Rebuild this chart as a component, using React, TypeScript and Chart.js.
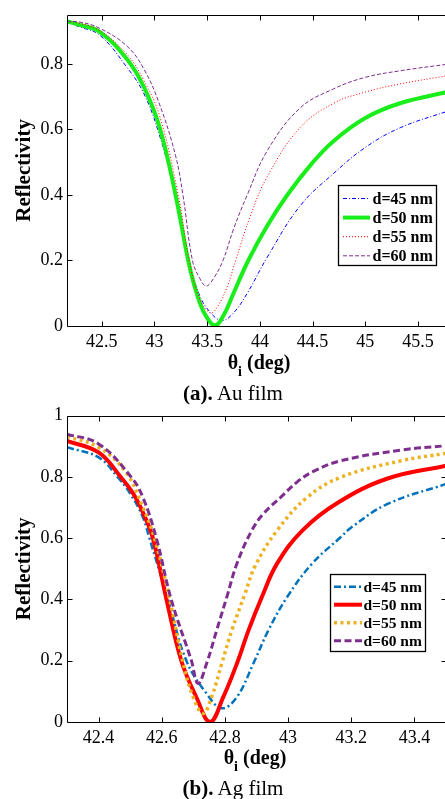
import React, { useEffect, useRef } from "react";
import { Chart, registerables } from "chart.js";

Chart.register(...registerables);

// ---------- shared ----------
const seriesLabels = ["d=45 nm", "d=50 nm", "d=55 nm", "d=60 nm"];

// ---------- (a) Au film ----------
const auXTicks = [42.5, 43, 43.5, 44, 44.5, 45, 45.5];
const auXTickLabels = ["42.5", "43", "43.5", "44", "44.5", "45", "45.5"];
const auYTicks = [0, 0.2, 0.4, 0.6, 0.8];
const auYTickLabels = ["0", "0.2", "0.4", "0.6", "0.8"];

const auTheta45 = [42.17, 42.29, 42.48, 42.74, 42.9, 43.05, 43.19, 43.33, 43.42, 43.52, 43.64, 43.75, 43.88, 44.07, 44.38, 44.7, 45.0, 45.33, 45.8];
const auR45 = [0.927, 0.913, 0.888, 0.789, 0.709, 0.58, 0.41, 0.2, 0.1, 0.045, 0.017, 0.04, 0.1, 0.21, 0.366, 0.466, 0.545, 0.605, 0.658];

const auTheta50 = [42.17, 42.29, 42.48, 42.74, 42.9, 43.05, 43.2, 43.32, 43.4, 43.48, 43.575, 43.66, 43.75, 43.89, 44.07, 44.26, 44.49, 44.7, 45.0, 45.33, 45.8];
const auR50 = [0.93, 0.919, 0.898, 0.814, 0.729, 0.605, 0.4, 0.2, 0.1, 0.035, 0.002, 0.035, 0.1, 0.2, 0.306, 0.4, 0.495, 0.565, 0.635, 0.68, 0.716];

const auTheta55 = [42.17, 42.29, 42.48, 42.74, 42.9, 43.05, 43.225, 43.33, 43.42, 43.53, 43.6, 43.69, 43.77, 43.91, 44.07, 44.38, 44.7, 45.0, 45.33, 45.8];
const auR55 = [0.93, 0.924, 0.902, 0.829, 0.749, 0.64, 0.4, 0.2, 0.09, 0.04, 0.06, 0.12, 0.2, 0.336, 0.456, 0.605, 0.68, 0.714, 0.739, 0.765];

const auTheta60 = [42.17, 42.29, 42.48, 42.74, 42.9, 43.05, 43.2, 43.27, 43.36, 43.43, 43.49, 43.56, 43.65, 43.75, 43.88, 44.07, 44.38, 44.7, 45.0, 45.33, 45.8];
const auR60 = [0.93, 0.928, 0.909, 0.854, 0.784, 0.675, 0.52, 0.4, 0.2, 0.145, 0.122, 0.145, 0.2, 0.296, 0.4, 0.535, 0.665, 0.724, 0.759, 0.779, 0.8];

// ---------- (b) Ag film ----------
const agXTicks = [42.4, 42.6, 42.8, 43, 43.2, 43.4];
const agXTickLabels = ["42.4", "42.6", "42.8", "43", "43.2", "43.4"];
const agYTicks = [0, 0.2, 0.4, 0.6, 0.8, 1];
const agYTickLabels = ["0", "0.2", "0.4", "0.6", "0.8", "1"];

const agTheta45 = [42.3, 42.4, 42.46, 42.5, 42.54, 42.561, 42.62, 42.678, 42.742, 42.79, 42.838, 42.89, 42.938, 42.997, 43.076, 43.167, 43.2, 43.315, 43.5];
const agR45 = [0.897, 0.864, 0.8, 0.746, 0.669, 0.6, 0.4, 0.2, 0.093, 0.045, 0.082, 0.191, 0.3, 0.408, 0.517, 0.604, 0.635, 0.712, 0.777];

const agTheta50 = [42.3, 42.4, 42.47, 42.51, 42.54, 42.572, 42.615, 42.662, 42.71, 42.753, 42.795, 42.838, 42.875, 42.917, 42.965, 43.045, 43.156, 43.315, 43.5];
const agR50 = [0.918, 0.88, 0.8, 0.745, 0.685, 0.6, 0.4, 0.2, 0.08, 0.0, 0.082, 0.191, 0.3, 0.408, 0.517, 0.625, 0.715, 0.795, 0.837];

const agTheta55 = [42.3, 42.4, 42.487, 42.54, 42.577, 42.625, 42.666, 42.7, 42.731, 42.758, 42.79, 42.822, 42.864, 42.896, 42.965, 43.06, 43.167, 43.358, 43.5];
const agR55 = [0.932, 0.897, 0.815, 0.701, 0.6, 0.4, 0.2, 0.08, 0.028, 0.082, 0.191, 0.3, 0.42, 0.51, 0.625, 0.733, 0.799, 0.853, 0.877];

const agTheta60 = [42.3, 42.4, 42.503, 42.54, 42.583, 42.63, 42.694, 42.715, 42.742, 42.774, 42.806, 42.838, 42.885, 42.922, 42.976, 43.03, 43.08, 43.167, 43.358, 43.5];
const agR60 = [0.94, 0.908, 0.8, 0.734, 0.6, 0.4, 0.2, 0.126, 0.191, 0.3, 0.408, 0.517, 0.625, 0.68, 0.733, 0.785, 0.818, 0.853, 0.888, 0.902];

const zip = (xs: number[], ys: number[]) => xs.map((x, i) => ({ x, y: ys[i] }));

const SERIF = '"Liberation Serif", "Times New Roman", serif';

// ---------- plugins ----------
const framePlugin = {
  id: "frame",
  afterDatasetsDraw(chart: any, _a: any, o: any) {
    const { ctx, chartArea: a, scales } = chart;
    const tl = o.tickLen ?? 5;
    const L = Math.round(a.left) + 0.5;
    const R = Math.round(a.right) + 0.5;
    const T = Math.round(a.top) + 0.5;
    const B = Math.round(a.bottom) + 0.5;
    ctx.save();
    ctx.strokeStyle = "#000";
    ctx.lineWidth = 1;
    ctx.setLineDash([]);
    ctx.beginPath();
    ctx.rect(L, T, R - L, B - T);
    scales.x.ticks.forEach((t: any) => {
      const px = Math.round(scales.x.getPixelForValue(t.value)) + 0.5;
      ctx.moveTo(px, B);
      ctx.lineTo(px, B - tl);
      ctx.moveTo(px, T);
      ctx.lineTo(px, T + tl);
    });
    scales.y.ticks.forEach((t: any) => {
      const py = Math.round(scales.y.getPixelForValue(t.value)) + 0.5;
      ctx.moveTo(L, py);
      ctx.lineTo(L + tl, py);
      ctx.moveTo(R, py);
      ctx.lineTo(R - tl, py);
    });
    ctx.stroke();
    ctx.restore();
  },
};

const boxLegendPlugin = {
  id: "boxLegend",
  afterDraw(chart: any, _a: any, o: any) {
    const ctx = chart.ctx;
    ctx.save();
    ctx.fillStyle = "#fff";
    ctx.fillRect(o.x, o.y, o.w, o.h);
    ctx.strokeStyle = "#000";
    ctx.lineWidth = 1.3;
    ctx.setLineDash([]);
    ctx.strokeRect(o.x, o.y, o.w, o.h);
    chart.data.datasets.forEach((ds: any, i: number) => {
      const y = o.rowY0 + i * o.rowGap;
      ctx.save();
      ctx.strokeStyle = ds.borderColor;
      ctx.lineWidth = ds.borderWidth;
      ctx.lineCap = "butt";
      ctx.setLineDash(ds.borderDash || []);
      ctx.beginPath();
      ctx.moveTo(o.lineX0, y);
      ctx.lineTo(o.lineX1, y);
      ctx.stroke();
      ctx.restore();
      ctx.fillStyle = "#000";
      ctx.font = `bold ${o.fontSize}px ${SERIF}`;
      ctx.textBaseline = "middle";
      ctx.textAlign = "left";
      ctx.fillText(ds.label, o.textX, y + 1);
    });
    ctx.restore();
  },
};

type Cfg = {
  width: number;
  height: number;
  padTop: number;
  padRight: number;
  xAxisH: number;
  yAxisW: number;
  xMin: number;
  xMax: number;
  yMin: number;
  yMax: number;
  xTicks: number[];
  xTickLabels: string[];
  yTicks: number[];
  yTickLabels: string[];
  datasets: any[];
  legend: any;
};

function makeConfig(c: Cfg): any {
  const tickFont = { family: SERIF, size: 18 };
  return {
    type: "scatter",
    data: { datasets: c.datasets },
    plugins: [framePlugin, boxLegendPlugin],
    options: {
      responsive: false,
      animation: false,
      events: [],
      layout: { padding: { left: 0, top: c.padTop, right: c.padRight, bottom: 0 } },
      plugins: {
        legend: { display: false },
        tooltip: { enabled: false },
        frame: { tickLen: 5 },
        boxLegend: c.legend,
      },
      scales: {
        x: {
          type: "linear",
          min: c.xMin,
          max: c.xMax,
          grid: { display: false, drawTicks: false },
          border: { display: false },
          afterBuildTicks: (s: any) => {
            s.ticks = c.xTicks.map((v) => ({ value: v }));
          },
          afterFit: (s: any) => {
            s.height = c.xAxisH;
          },
          ticks: {
            color: "#000",
            font: tickFont,
            padding: 5,
            autoSkip: false,
            maxRotation: 0,
            callback: (_v: any, i: number) => c.xTickLabels[i],
          },
        },
        y: {
          type: "linear",
          min: c.yMin,
          max: c.yMax,
          grid: { display: false, drawTicks: false },
          border: { display: false },
          afterBuildTicks: (s: any) => {
            s.ticks = c.yTicks.map((v) => ({ value: v }));
          },
          afterFit: (s: any) => {
            s.width = c.yAxisW;
          },
          ticks: {
            color: "#000",
            font: tickFont,
            padding: 4,
            autoSkip: false,
            callback: (_v: any, i: number) => c.yTickLabels[i],
          },
          title: {
            display: true,
            text: "Reflectivity",
            color: "#000",
            font: { family: SERIF, size: 21, weight: "bold" },
            padding: { top: 12, bottom: 0 },
          },
        },
      },
    },
  };
}

function line(label: string, data: any[], color: string, width: number, dash: number[], order: number) {
  return {
    label,
    data,
    showLine: true,
    borderColor: color,
    backgroundColor: color,
    borderWidth: width,
    borderDash: dash,
    borderCapStyle: "butt",
    borderJoinStyle: "round",
    pointRadius: 0,
    fill: false,
    tension: 0.4,
    order,
  };
}

const auDatasets = () => [
  line(seriesLabels[0], zip(auTheta45, auR45), "#0000ff", 1, [4, 2, 1, 2], 3),
  line(seriesLabels[1], zip(auTheta50, auR50), "#1aee1a", 4, [], 2),
  line(seriesLabels[2], zip(auTheta55, auR55), "#ff0000", 1, [1, 2], 1),
  line(seriesLabels[3], zip(auTheta60, auR60), "#7e2f8e", 1, [4, 2], 0),
];

const agDatasets = () => [
  line(seriesLabels[0], zip(agTheta45, agR45), "#0072bd", 2.5, [7, 3, 2, 3], 3),
  line(seriesLabels[1], zip(agTheta50, agR50), "#ff0000", 4, [], 2),
  line(seriesLabels[2], zip(agTheta55, agR55), "#edb120", 3.5, [3, 3.5], 1),
  line(seriesLabels[3], zip(agTheta60, agR60), "#7e2f8e", 3, [7, 3.5], 0),
];

function ChartCanvas({ cfg, top }: { cfg: Cfg; top: number }) {
  const ref = useRef<HTMLCanvasElement | null>(null);
  useEffect(() => {
    if (!ref.current) return;
    const ch = new Chart(ref.current, makeConfig(cfg));
    return () => ch.destroy();
  }, []);
  return (
    <canvas
      ref={ref}
      width={cfg.width}
      height={cfg.height}
      style={{ position: "absolute", left: 0, top, width: cfg.width, height: cfg.height }}
    />
  );
}

function XTitle({ cx, cy }: { cx: number; cy: number }) {
  return (
    <div
      style={{
        position: "absolute",
        left: cx - 100,
        top: cy - 11,
        width: 200,
        textAlign: "center",
        fontFamily: SERIF,
        fontWeight: "bold",
        fontSize: 20,
        lineHeight: "22px",
        color: "#000",
        whiteSpace: "nowrap",
      }}
    >
      θ<span style={{ fontSize: 14, position: "relative", top: 7 }}>i</span> (deg)
    </div>
  );
}

function Caption({ cx, cy, tag, text }: { cx: number; cy: number; tag: string; text: string }) {
  return (
    <div
      style={{
        position: "absolute",
        left: cx - 120,
        top: cy - 12,
        width: 240,
        textAlign: "center",
        fontFamily: SERIF,
        fontSize: 21,
        lineHeight: "24px",
        color: "#000",
        whiteSpace: "nowrap",
      }}
    >
      <span style={{ fontWeight: "bold" }}>{tag}</span> {text}
    </div>
  );
}

export default function App() {
  const auCfg: Cfg = {
    width: 470,
    height: 352,
    padTop: 7,
    padRight: 470 - 449.6,
    xAxisH: 352 - 326,
    yAxisW: 67,
    xMin: 42.17,
    xMax: 45.8,
    yMin: 0,
    yMax: 0.95,
    xTicks: auXTicks,
    xTickLabels: auXTickLabels,
    yTicks: auYTicks,
    yTickLabels: auYTickLabels,
    datasets: auDatasets(),
    legend: { x: 338.5, y: 185.5, w: 98, h: 80, rowY0: 198.5, rowGap: 19.1, lineX0: 343, lineX1: 370, textX: 372.5, fontSize: 16 },
  };
  const agTop = 400;
  const agCfg: Cfg = {
    width: 470,
    height: 345,
    padTop: 415.7 - agTop,
    padRight: 470 - 446,
    xAxisH: 345 - (722 - agTop),
    yAxisW: 67,
    xMin: 42.3,
    xMax: 43.5,
    yMin: 0,
    yMax: 1,
    xTicks: agXTicks,
    xTickLabels: agXTickLabels,
    yTicks: agYTicks,
    yTickLabels: agYTickLabels,
    datasets: agDatasets(),
    legend: {
      x: 330.5,
      y: 574.5 - agTop,
      w: 95,
      h: 77,
      rowY0: 586.7 - agTop,
      rowGap: 18,
      lineX0: 334,
      lineX1: 362,
      textX: 363.5,
      fontSize: 15.5,
    },
  };
  return (
    <div
      style={{
        position: "fixed",
        left: 0,
        top: 0,
        width: 445,
        height: 799,
        overflow: "hidden",
        background: "#fff",
      }}
    >
      <ChartCanvas cfg={auCfg} top={0} />
      <XTitle cx={259} cy={362} />
      <Caption cx={233} cy={393} tag="(a)." text="Au film" />
      <ChartCanvas cfg={agCfg} top={agTop} />
      <XTitle cx={255} cy={757} />
      <Caption cx={233} cy={788} tag="(b)." text="Ag film" />
    </div>
  );
}
